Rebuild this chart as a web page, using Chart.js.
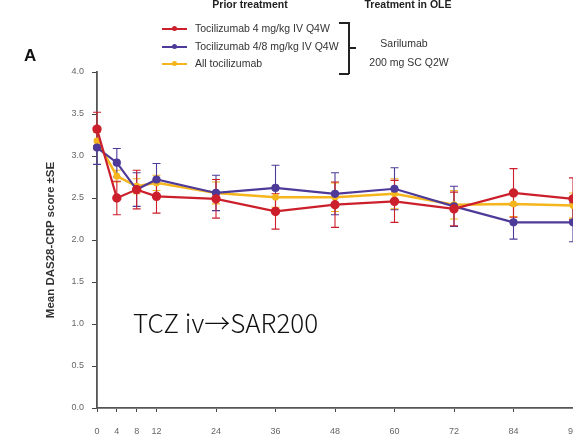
<!DOCTYPE html>
<html>
<head>
<meta charset="utf-8">
<script src="https://cdn.jsdelivr.net/npm/chart.js@4.4.1/dist/chart.umd.min.js"></script>
<style>
  html, body { margin: 0; padding: 0; background: #fff; overflow: hidden; width: 573px; height: 437px; }
  #wrap { position: relative; width: 600px; height: 437px; }
  #chart { position: absolute; left: 0; top: 0; }
  .t { position: absolute; font-family: "Liberation Sans", Arial, sans-serif; font-size: 10.5px; color: #333; white-space: nowrap; }
  .hdr { font-weight: bold; color: #222; transform: translateX(-50%); }
  .ctr { transform: translateX(-50%); }
  .swatch { position: absolute; width: 25px; height: 2px; }
  .dot { position: absolute; left: 10px; top: -2px; width: 5px; height: 5px; border-radius: 50%; }
  .br { position: absolute; background: #222; }
  .ytitle { position: absolute; left: 50px; top: 240px; transform: translate(-50%, -50%) rotate(-90deg); font-weight: bold; font-size: 11.5px; color: #333; }
</style>
</head>
<body>
<div id="wrap">
  <canvas id="chart" width="600" height="437"></canvas>

  <div class="t hdr" style="left:250px; top:-2px;">Prior treatment</div>
  <div class="t hdr" style="left:408px; top:-2px;">Treatment in OLE</div>

  <div class="swatch" style="left:162px; top:28px; background:#cc1f2c;"><div class="dot" style="background:#cc1f2c;"></div></div>
  <div class="t" style="left:195px; top:22px;">Tocilizumab 4 mg/kg IV Q4W</div>
  <div class="swatch" style="left:162px; top:46px; background:#4e3a98;"><div class="dot" style="background:#4e3a98;"></div></div>
  <div class="t" style="left:195px; top:40px;">Tocilizumab 4/8 mg/kg IV Q4W</div>
  <div class="swatch" style="left:162px; top:63px; background:#f5b51c;"><div class="dot" style="background:#f5b51c;"></div></div>
  <div class="t" style="left:195px; top:57px;">All tocilizumab</div>

  <div class="br" style="left:339px; top:22px; width:10px; height:1.5px;"></div>
  <div class="br" style="left:348px; top:22px; width:1.5px; height:52px;"></div>
  <div class="br" style="left:348px; top:47px; width:8px; height:1.5px;"></div>
  <div class="br" style="left:339px; top:73px; width:10px; height:1.5px;"></div>

  <div class="t ctr" style="left:404px; top:37px;">Sarilumab</div>
  <div class="t ctr" style="left:409px; top:56px;">200 mg SC Q2W</div>

  <div class="t" style="left:24px; top:46px; font-size:17px; font-weight:bold; color:#111;">A</div>

  <div class="t ytitle">Mean DAS28-CRP score ±SE</div>

  <div class="t" style="left:133px; top:303px; font-family:'Noto Sans CJK JP', sans-serif; font-size:26px; color:#111; font-weight:300;">TCZ iv→SAR200</div>
</div>

<script>
const weeks = [0, 4, 8, 12, 24, 36, 48, 60, 72, 84, 96];
const weekTicks = [0, 4, 8, 12, 24, 36, 48, 60, 72, 84, 96];

const tcz4Mean = [3.32, 2.50, 2.60, 2.52, 2.49, 2.34, 2.42, 2.46, 2.37, 2.56, 2.49];
const tcz4Se   = [0.20, 0.20, 0.23, 0.20, 0.23, 0.21, 0.27, 0.25, 0.20, 0.29, 0.25];

const tcz48Mean = [3.10, 2.92, 2.60, 2.72, 2.56, 2.62, 2.55, 2.61, 2.40, 2.21, 2.21];
const tcz48Se   = [0.20, 0.17, 0.20, 0.19, 0.21, 0.27, 0.25, 0.25, 0.24, 0.20, 0.23];

const allMean = [3.18, 2.76, 2.64, 2.68, 2.56, 2.51, 2.51, 2.55, 2.42, 2.43, 2.41];
const allSe   = [0.10, 0.07, 0.09, 0.09, 0.13, 0.12, 0.17, 0.18, 0.17, 0.15, 0.15];

const red = '#cc1f2c';
const purple = '#4e3a98';
const yellow = '#f5b51c';

const pts = (means) => weeks.map((w, i) => ({ x: w, y: means[i] }));

const errorBars = {
    id: 'errorBars',
    beforeDatasetsDraw(chart) {
        const { ctx, scales: { x, y } } = chart;
        ctx.save();
        ctx.lineWidth = 1.1;
        chart.data.datasets.forEach(ds => {
            ctx.strokeStyle = ds.borderColor;
            ds.se.forEach((se, i) => {
                const px = x.getPixelForValue(ds.data[i].x);
                const top = y.getPixelForValue(ds.data[i].y + se);
                const bot = y.getPixelForValue(ds.data[i].y - se);
                ctx.beginPath();
                ctx.moveTo(px, top); ctx.lineTo(px, bot);
                ctx.moveTo(px - 4, top); ctx.lineTo(px + 4, top);
                ctx.moveTo(px - 4, bot); ctx.lineTo(px + 4, bot);
                ctx.stroke();
            });
        });
        ctx.restore();
    }
};

new Chart(document.getElementById('chart'), {
    type: 'line',
    data: {
        datasets: [
            { label: 'All tocilizumab', data: pts(allMean), se: allSe, borderColor: yellow, backgroundColor: yellow, borderWidth: 2.5, pointRadius: 2.2, order: 3 },
            { label: 'Tocilizumab 4/8 mg/kg IV Q4W', data: pts(tcz48Mean), se: tcz48Se, borderColor: purple, backgroundColor: purple, borderWidth: 2.2, pointRadius: 3, order: 2 },
            { label: 'Tocilizumab 4 mg/kg IV Q4W', data: pts(tcz4Mean), se: tcz4Se, borderColor: red, backgroundColor: red, borderWidth: 2.2, pointRadius: 3.6, order: 1 }
        ]
    },
    options: {
        responsive: false,
        animation: false,
        clip: false,
        layout: { padding: { left: 0, right: 27, top: 72, bottom: 0 } },
        plugins: { legend: { display: false }, tooltip: { enabled: false } },
        scales: {
            x: {
                type: 'linear',
                min: 0, max: 96,
                afterBuildTicks: (scale) => { scale.ticks = weekTicks.map(v => ({ value: v })); },
                afterFit: (scale) => { scale.height = 29; },
                ticks: { color: '#666', font: { family: 'Liberation Sans, Arial', size: 9 }, padding: 14, maxRotation: 0, autoSkip: false },
                grid: { drawOnChartArea: false, tickLength: 4, color: '#444', lineWidth: 1 },
                border: { color: '#555', width: 1.8 }
            },
            y: {
                min: 0, max: 4,
                ticks: { stepSize: 0.5, color: '#666', font: { family: 'Liberation Sans, Arial', size: 9 }, padding: 8, callback: v => v.toFixed(1) },
                afterFit: (scale) => { scale.width = 97; },
                grid: { drawOnChartArea: false, tickLength: 5, color: '#444', lineWidth: 1 },
                border: { color: '#555', width: 1.8 }
            }
        }
    },
    plugins: [errorBars]
});
</script>
</body>
</html>
